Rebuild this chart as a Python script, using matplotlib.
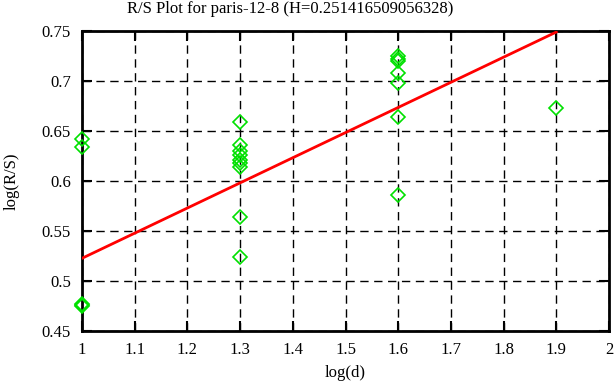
import numpy as np
import matplotlib
matplotlib.use('Agg')
import matplotlib.pyplot as plt

plt.rcParams['font.family'] = ['Liberation Serif', 'DejaVu Serif']

# data
log_d = [1.0, 1.0, 1.0, 1.0, 1.0,
         1.3, 1.3, 1.3, 1.3, 1.3, 1.3, 1.3, 1.3, 1.3,
         1.6, 1.6, 1.6, 1.6, 1.6, 1.6, 1.6,
         1.9]
log_rs = [0.642, 0.634, 0.476, 0.477, 0.475,
          0.659, 0.636, 0.630, 0.626, 0.621, 0.618, 0.614, 0.564, 0.524,
          0.725, 0.722, 0.720, 0.708, 0.698, 0.664, 0.586,
          0.673]
H = 0.251416509056328
fit_at_1 = 0.5227   # value of the fitted line at log(d)=1
fit_x = [1.0, 1.9]

xticks = [1, 1.1, 1.2, 1.3, 1.4, 1.5, 1.6, 1.7, 1.8, 1.9, 2]
yticks = [0.45, 0.5, 0.55, 0.6, 0.65, 0.7, 0.75]

fig = plt.figure(figsize=(6.16, 3.87), dpi=100)
ax = fig.add_axes([82/616, 1 - 331/387, 527/616, 300/387])

ax.plot(log_d, log_rs, linestyle='none', marker='D', markersize=7.5,
        markerfacecolor='none', markeredgecolor='#00e000', markeredgewidth=1.2,
        zorder=3, clip_on=False)
fit_y = [fit_at_1 + H * (x - 1) for x in fit_x]
ax.plot(fit_x, fit_y, color='#ff0000', linewidth=2, zorder=4)

ax.set_xlim(1, 2)
ax.set_ylim(0.45, 0.75)
ax.set_xticks(xticks)
ax.set_xticklabels(['1', '1.1', '1.2', '1.3', '1.4', '1.5', '1.6', '1.7', '1.8', '1.9', '2'])
ax.set_yticks(yticks)
ax.set_yticklabels(['0.45', '0.5', '0.55', '0.6', '0.65', '0.7', '0.75'])
ax.grid(True, color='black', linestyle=(0, (6, 4)), linewidth=1)
ax.tick_params(direction='in', length=7, width=1.5, top=True, right=True,
               labelsize=12, pad=8)
for s in ax.spines.values():
    s.set_linewidth(2)

# gnuplot-style title, centred on the canvas rather than the axes
fig.text(290/616, 1 - 1/387, 'R/S Plot for paris-12-8 (H=0.251416509056328)',
         fontsize=12, ha='center', va='top')
ax.set_xlabel('log(d)', fontsize=12, labelpad=5)
ax.set_ylabel('log(R/S)', fontsize=12, labelpad=16)

fig.savefig('out.png', dpi=100)
